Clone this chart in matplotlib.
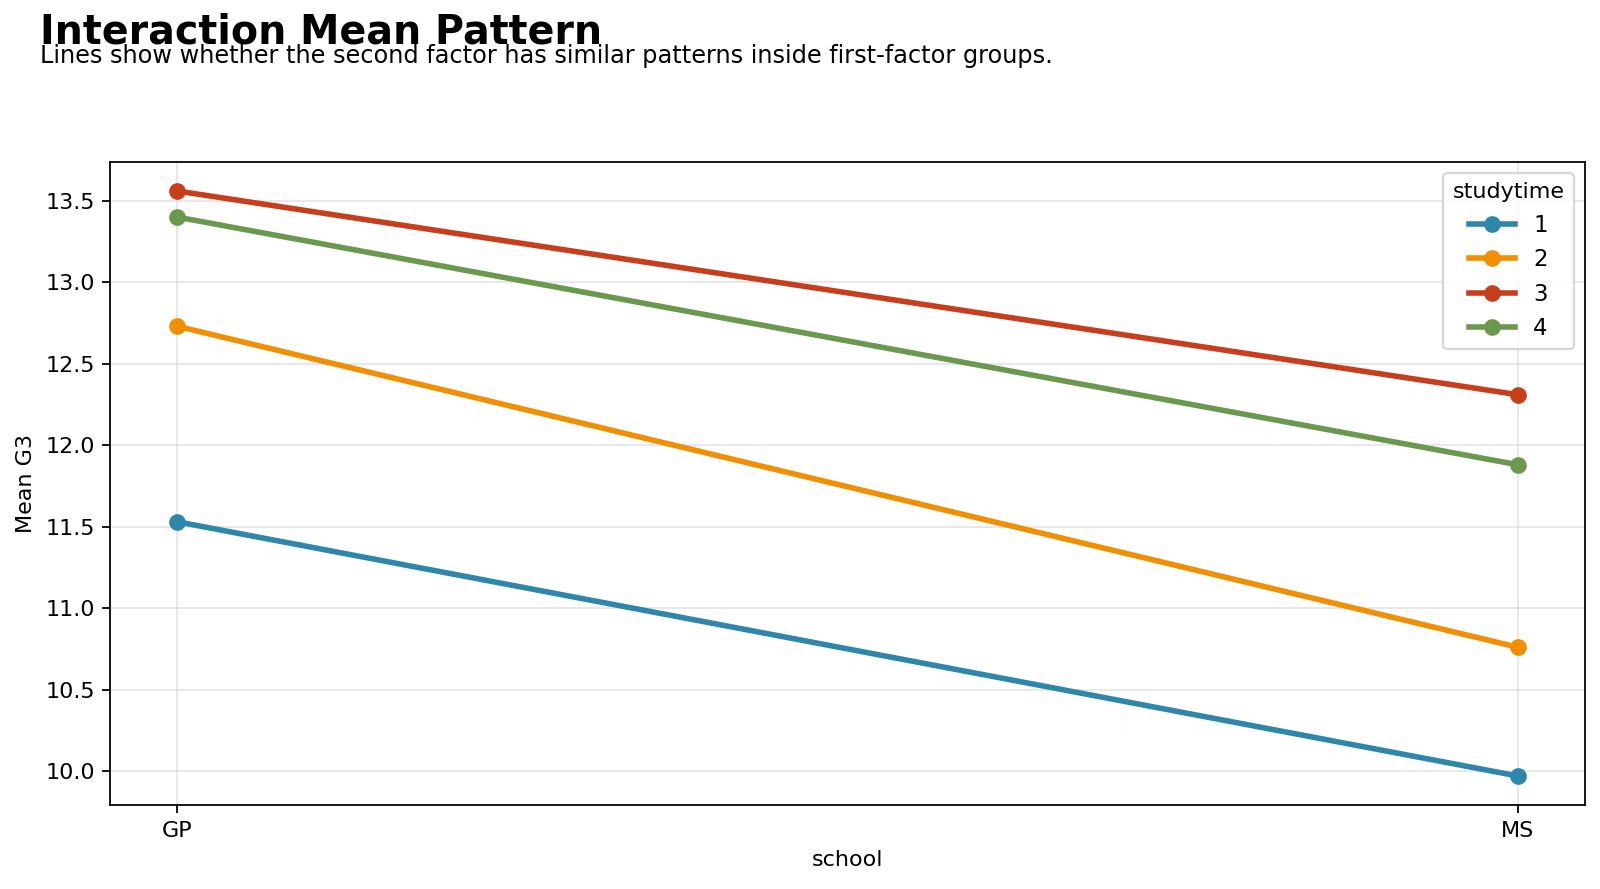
import matplotlib
matplotlib.use("Agg")
import matplotlib.pyplot as plt

schools = ["GP", "MS"]
studytime_levels = ["1", "2", "3", "4"]
mean_g3_1 = [11.53, 9.97]
mean_g3_2 = [12.73, 10.76]
mean_g3_3 = [13.56, 12.31]
mean_g3_4 = [13.40, 11.88]
series = [mean_g3_1, mean_g3_2, mean_g3_3, mean_g3_4]
colors = ["#2E86AB", "#F18F01", "#C73E1D", "#6A994E"]

W, H, DPI = 1600, 889, 160
fig = plt.figure(figsize=(W / DPI, H / DPI), dpi=DPI)
ax = fig.add_axes([0.069, 0.0942, 0.9216, 0.7238])

x = list(range(len(schools)))
for lvl, vals, c in zip(studytime_levels, series, colors):
    ax.plot(x, vals, marker="o", color=c, linewidth=2.5, markersize=6.5, label=lvl)

ax.set_xticks(x)
ax.set_xticklabels(schools)
ax.tick_params(labelsize=10)
ax.set_xlabel("school", fontsize=10)
ax.set_ylabel("Mean G3", fontsize=10)
ax.grid(True, color="#cccccc", alpha=0.5, linewidth=0.8)
ax.set_axisbelow(True)
ax.legend(title="studytime", loc="upper right", fontsize=10.3, title_fontsize=10,
          labelspacing=0.5)

fig.text(0.025, 1 - 43.5 / H, "Interaction Mean Pattern", fontsize=17.8,
         fontweight="bold", ha="left", va="baseline")
fig.text(0.025, 1 - 62.5 / H,
         "Lines show whether the second factor has similar patterns inside first-factor groups.",
         fontsize=10.8, ha="left", va="baseline")

fig.savefig("out.png", dpi=DPI)
